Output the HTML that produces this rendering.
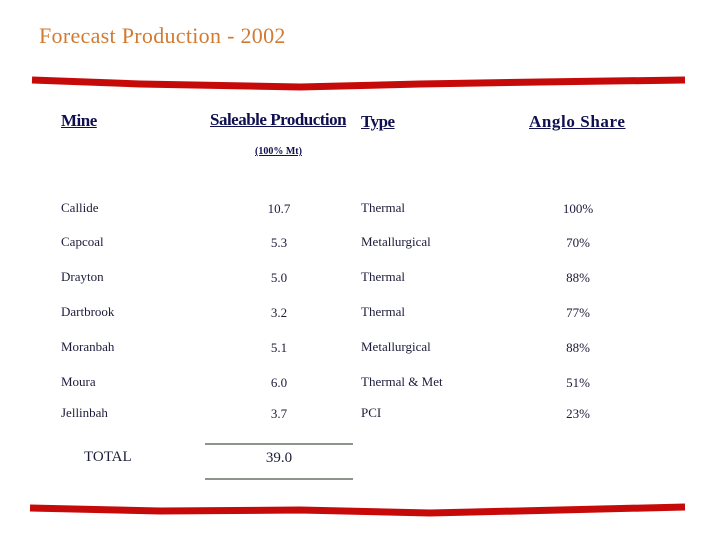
<!DOCTYPE html>
<html><head><meta charset="utf-8"><style>
body{margin:0;background:#fff;}
#slide{position:relative;width:720px;height:540px;overflow:hidden;font-family:"Liberation Serif",serif;color:#1c1c3a;}
.t{position:absolute;white-space:nowrap;font-size:13px;line-height:16px;}
.c{transform:translateX(-50%);}
.h{font-size:17px;font-weight:bold;text-decoration:underline;color:#101050;letter-spacing:-0.5px;}
</style></head><body>
<div id="slide">
<div class="t" style="left:39px;top:24px;font-size:22px;line-height:24px;letter-spacing:0.3px;color:#d27a32;">Forecast Production - 2002</div>
<svg width="720" height="540" style="position:absolute;left:0;top:0">
<path d="M32,80 L140,84 L300,87 L420,84 L540,82 L685,80" stroke="#c60a0a" stroke-width="7" fill="none"/>
<path d="M30,508 L160,511 L300,510 L430,513 L560,510 L685,507" stroke="#c60a0a" stroke-width="7" fill="none"/>
<line x1="205" y1="444" x2="353" y2="444" stroke="#1a2a1a" stroke-width="1"/>
<line x1="205" y1="479" x2="353" y2="479" stroke="#1a2a1a" stroke-width="1"/>
</svg>
<div class="t h" style="left:61px;top:113px;">Mine</div>
<div class="t h" style="left:210px;top:112px;">Saleable Production</div>
<div class="t h" style="left:361px;top:114px;">Type</div>
<div class="t h" style="left:529px;top:114px;letter-spacing:0.6px;">Anglo Share</div>
<div class="t" style="left:255px;top:144px;font-size:10px;font-weight:bold;text-decoration:underline;color:#101050;">(100% Mt)</div>
<div id="rows"></div>
<div class="t" style="left:84px;top:449px;font-size:15px;">TOTAL</div>
<div class="t c" style="left:279px;top:450px;font-size:15px;">39.0</div>
</div>
<script>
const mines=["Callide","Capcoal","Drayton","Dartbrook","Moranbah","Moura","Jellinbah"];
const production=["10.7","5.3","5.0","3.2","5.1","6.0","3.7"];
const types=["Thermal","Metallurgical","Thermal","Thermal","Metallurgical","Thermal & Met","PCI"];
const shares=["100%","70%","88%","77%","88%","51%","23%"];
const rowTops=[200,234,269,304,339,374,405];
const s=document.getElementById('slide');
function mk(txt,cls,left,top,name){const d=document.createElement('div');d.className=cls;d.textContent=txt;d.style.left=left+'px';d.style.top=top+'px';


s.appendChild(d);}
mines.forEach((m,i)=>{const y=rowTops[i];
mk(m,'t',61,y,'mine-name');
mk(production[i],'t c',279,y+1,'production-value');
mk(types[i],'t',361,y,'coal-type');
mk(shares[i],'t c',578,y+1,'anglo-share');});
</script>
</body></html>
